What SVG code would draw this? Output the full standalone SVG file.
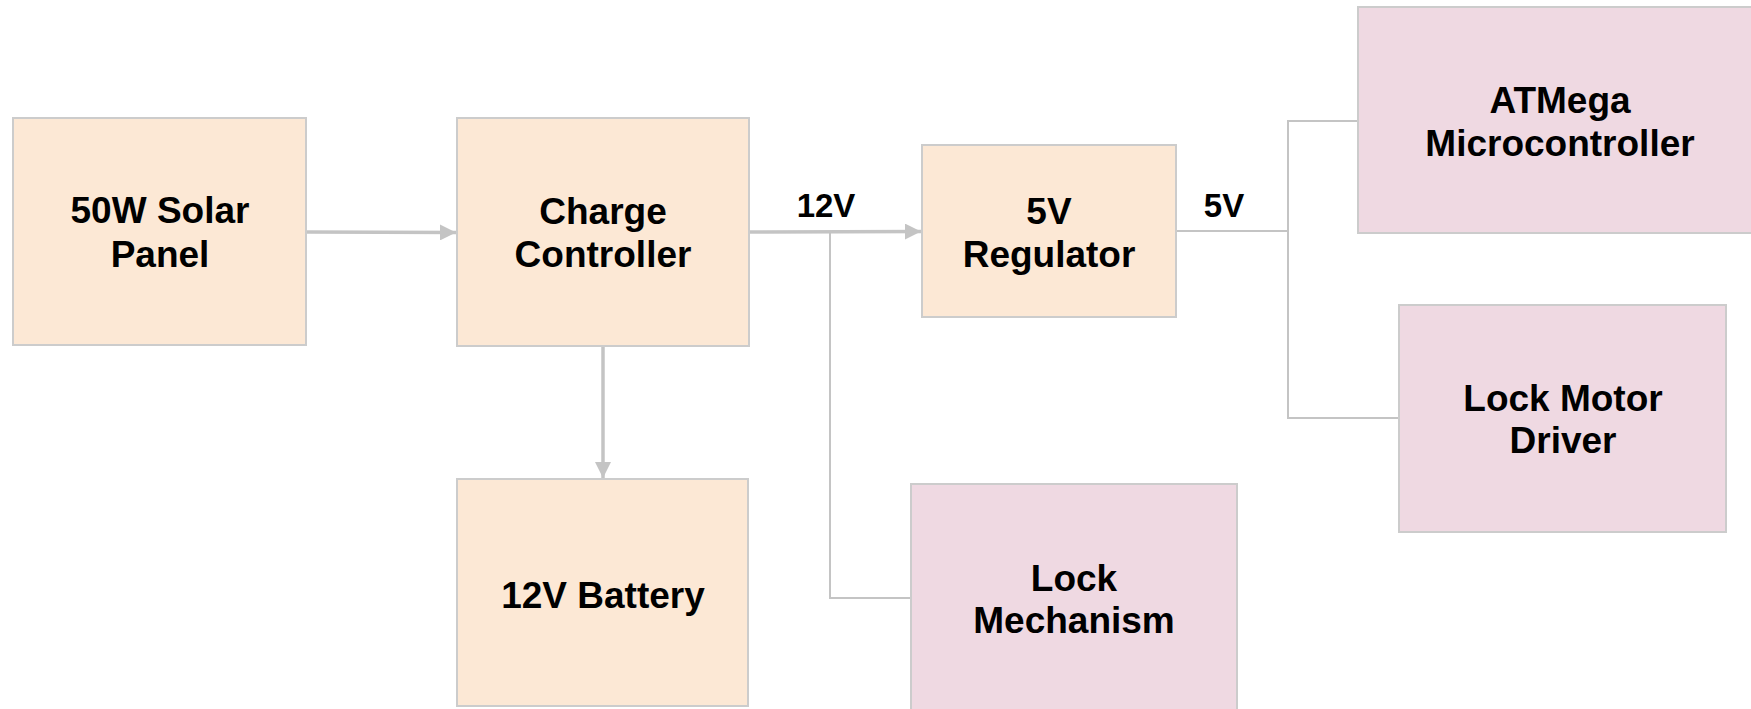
<svg xmlns="http://www.w3.org/2000/svg" width="1751" height="709" viewBox="0 0 1751 709">
<style>
.pw rect{fill:#fce8d5;stroke:#cccccc;stroke-width:2}
.ld rect{fill:#efd9e2;stroke:#cccccc;stroke-width:2}
text{font-family:"Liberation Sans",Arial,sans-serif;font-weight:bold;font-size:37px;fill:#000;text-anchor:middle}
.lbl{font-size:33px}
.c{fill:none;stroke:#c4c4c4}
.a{stroke-width:3.5}
.t{stroke-width:2}
</style>
<defs>
<marker id="ah" markerUnits="userSpaceOnUse" markerWidth="16" markerHeight="16" refX="16" refY="8" orient="auto">
<path d="M0,0 L16,8 L0,16 Z" fill="#c4c4c4"/>
</marker>
</defs>
<rect width="1751" height="709" fill="#ffffff"/>
<g id="connectors">
<line class="c a" x1="306" y1="232" x2="456" y2="232.5" marker-end="url(#ah)"/>
<line class="c a" x1="749" y1="232" x2="921" y2="231.5" marker-end="url(#ah)"/>
<line class="c a" x1="603" y1="346" x2="603" y2="478" marker-end="url(#ah)"/>
<polyline class="c t" points="830,232 830,598 911,598"/>
<polyline class="c t" points="1176,231 1288,231"/>
<polyline class="c t" points="1358,121 1288,121 1288,418 1399,418"/>
<text class="lbl" x="826" y="217">12V</text>
<text class="lbl" x="1224" y="217">5V</text>
</g>
<g id="solar" class="pw">
<rect x="13" y="118" width="293" height="227"/>
<text x="160" y="223">50W Solar</text>
<text x="160" y="267">Panel</text>
</g>
<g id="charge" class="pw">
<rect x="457" y="118" width="292" height="228"/>
<text x="603" y="224">Charge</text>
<text x="603" y="267">Controller</text>
</g>
<g id="battery" class="pw">
<rect x="457" y="479" width="291" height="227"/>
<text x="603" y="608">12V Battery</text>
</g>
<g id="regulator" class="pw">
<rect x="922" y="145" width="254" height="172"/>
<text x="1049" y="224">5V</text>
<text x="1049" y="267">Regulator</text>
</g>
<g id="atmega" class="ld">
<rect x="1358" y="7" width="404" height="226"/>
<text x="1560" y="113">ATMega</text>
<text x="1560" y="156">Microcontroller</text>
</g>
<g id="motordriver" class="ld">
<rect x="1399" y="305" width="327" height="227"/>
<text x="1563" y="411">Lock Motor</text>
<text x="1563" y="453">Driver</text>
</g>
<g id="lockmech" class="ld">
<rect x="911" y="484" width="326" height="240"/>
<text x="1074" y="591">Lock</text>
<text x="1074" y="633">Mechanism</text>
</g>
</svg>
